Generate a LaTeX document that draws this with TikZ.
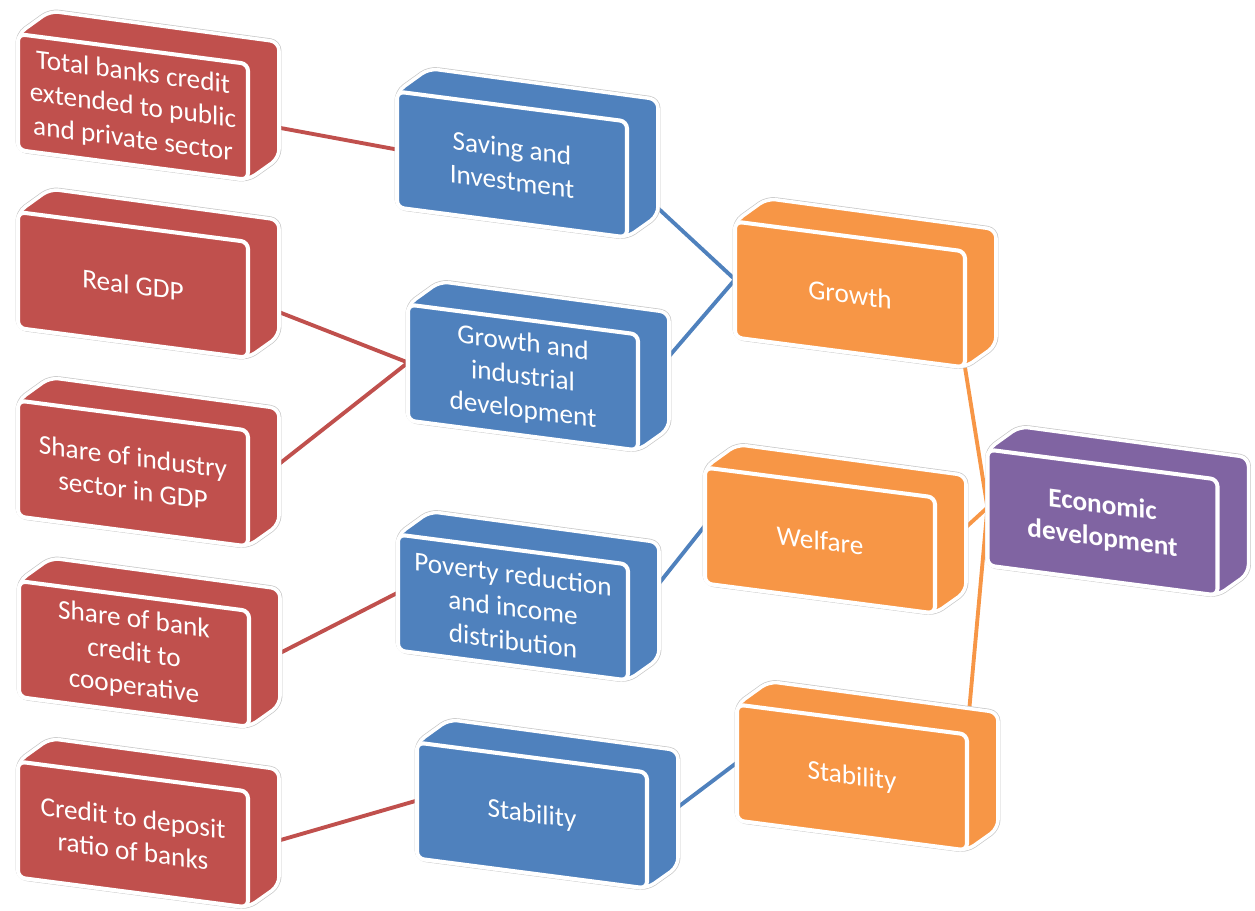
\documentclass[tikz,border=0pt]{standalone}
\usepackage{fontspec}
\setmainfont{Carlito}
\usetikzlibrary{calc}
\definecolor{redbox}{HTML}{C0504D}
\definecolor{bluebox}{HTML}{4F81BD}
\definecolor{orangebox}{HTML}{F79646}
\definecolor{purplebox}{HTML}{8064A2}
\pgfdeclarelayer{lines}
\pgfdeclarelayer{sides}
\pgfsetlayers{lines,sides,main}
\tikzset{
    face/.style={draw=white, line width=2.3pt, rounded corners=4pt, outer sep=0pt,
        minimum width=4.6cm, minimum height=2.32cm, yslant=-0.13,
        text=white, align=center, font=\fontsize{15.5}{19}\selectfont},
    side/.style={draw=white, line width=2pt, rounded corners=5pt,
        preaction={draw=black!22, line width=2.8pt}},
    link/.style={line width=2.2pt},
}
\begin{document}
\begin{tikzpicture}
    \useasboundingbox (0,0) rectangle (25.1,-18.22);
    % indicators
    \node[face, fill=redbox] (r1) at (2.66,-2.14) {Total banks credit\\extended to public\\and private sector};
    \node[face, fill=redbox] (r2) at (2.66,-5.70) {Real GDP};
    \node[face, fill=redbox] (r3) at (2.66,-9.47) {Share of industry\\sector in GDP};
    \node[face, fill=redbox] (r4) at (2.68,-13.08) {Share of bank\\credit to\\cooperative};
    \node[face, fill=redbox] (r5) at (2.66,-16.69) {Credit to deposit\\ratio of banks};
    % channels
    \node[face, fill=bluebox] (b1) at (10.24,-3.29) {Saving and\\Investment};
    \node[face, fill=bluebox] (b2) at (10.46,-7.55) {Growth and\\industrial\\development};
    \node[face, fill=bluebox] (b3) at (10.26,-12.15) {Poverty reduction\\and income\\distribution};
    \node[face, fill=bluebox] (b4) at (10.64,-16.31) {Stability};
    % outcomes
    \node[face, fill=orangebox] (o1) at (17.00,-5.89) {Growth};
    \node[face, fill=orangebox] (o2) at (16.40,-10.81) {Welfare};
    \node[face, fill=orangebox] (o3) at (17.04,-15.55) {Stability};
    \node[face, fill=purplebox, font=\fontsize{15.5}{19}\selectfont\bfseries] (ed) at (22.05,-10.45) {Economic\\development};
    % block sides
    \begin{pgfonlayer}{sides}
    \foreach \n/\c in {r1/redbox,r2/redbox,r3/redbox,r4/redbox,r5/redbox,
            b1/bluebox,b2/bluebox,b3/bluebox,b4/bluebox,
            o1/orangebox,o2/orangebox,o3/orangebox,ed/purplebox}
        \draw[side, fill=\c] (\n.south west) -- (\n.north west) -- ($(\n.north west)+(0.64,0.46)$)
            -- ($(\n.north east)+(0.62,0.44)$) -- ($(\n.south east)+(0.62,0.44)$) -- (\n.south east) -- cycle;
    \end{pgfonlayer}
    % connectors
    \begin{pgfonlayer}{lines}
    \draw[link, redbox] (r1.east) -- (b1.west);
    \draw[link, redbox] (r2.east) -- (b2.west);
    \draw[link, redbox] (r3.east) -- (b2.west);
    \draw[link, redbox] (r4.east) -- (b3.west);
    \draw[link, redbox] (r5.east) -- (b4.west);
    \draw[link, bluebox] (b1.east) -- (o1.west);
    \draw[link, bluebox] (b2.east) -- (o1.west);
    \draw[link, bluebox] (b3.east) -- (o2.west);
    \draw[link, bluebox] (b4.east) -- (o3.west);
    \draw[link, orangebox] (o1.south east) -- (ed.west);
    \draw[link, orangebox] (o2.east) -- (ed.west);
    \draw[link, orangebox] (o3.north east) -- (ed.west);
    \end{pgfonlayer}
\end{tikzpicture}
\end{document}
